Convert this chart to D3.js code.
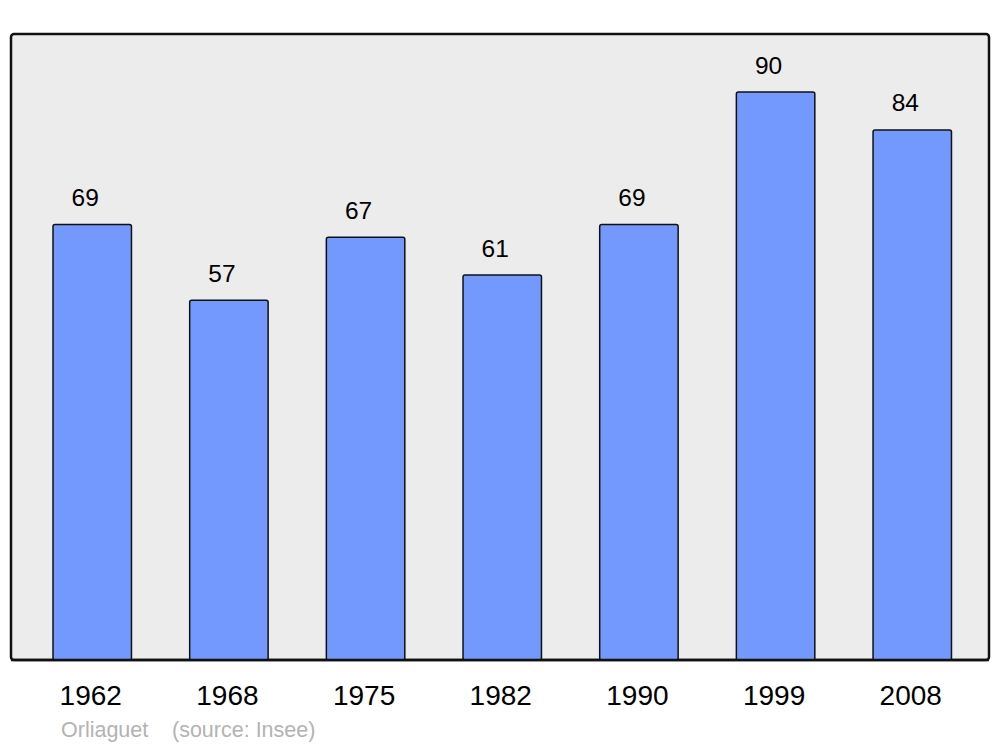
<!DOCTYPE html>
<html>
<head>
<meta charset="utf-8">
<script src="https://cdn.jsdelivr.net/npm/d3@7"></script>
<style>
  html, body { margin: 0; padding: 0; background: #ffffff; }
  svg { display: block; font-family: "Liberation Sans", Arial, sans-serif; }
</style>
</head>
<body>
<svg id="chart" width="1000" height="747"></svg>
<script>
const years = ["1962", "1968", "1975", "1982", "1990", "1999", "2008"];
const population = [69, 57, 67, 61, 69, 90, 84];
const footerName = "Orliaguet";
const footerSource = "(source: Insee)";

const svg = d3.select("#chart");
const panel = { left: 11, top: 34, right: 989, bottom: 660 };

svg.append("rect")
  .attr("x", panel.left).attr("y", panel.top)
  .attr("width", panel.right - panel.left)
  .attr("height", panel.bottom - panel.top)
  .attr("rx", 3).attr("ry", 3)
  .attr("fill", "#ececec")
  .attr("stroke", "#111")
  .attr("stroke-width", 2.5);

const x = d3.scaleBand()
  .domain(years)
  .range([23.9, 980.6])
  .paddingInner(0.426)
  .paddingOuter(0.213);

const y = d3.scaleLinear()
  .domain([0, 99.2])
  .range([panel.bottom, panel.top]);

const data = years.map((yr, i) => ({ year: yr, value: population[i] }));

svg.append("g").selectAll("rect")
  .data(data)
  .enter().append("rect")
  .attr("x", d => x(d.year))
  .attr("y", d => y(d.value))
  .attr("width", x.bandwidth())
  .attr("height", d => panel.bottom - y(d.value))
  .attr("rx", 2).attr("ry", 2)
  .attr("fill", "#7399ff")
  .attr("stroke", "#111")
  .attr("stroke-width", 1.5);

// redraw bottom border over bar bottoms
svg.append("line")
  .attr("x1", panel.left).attr("x2", panel.right)
  .attr("y1", panel.bottom).attr("y2", panel.bottom)
  .attr("stroke", "#111").attr("stroke-width", 2.5);

svg.append("g").selectAll("text")
  .data(data)
  .enter().append("text")
  .attr("x", d => x(d.year) + x.bandwidth() / 2 - 7)
  .attr("y", d => y(d.value) - 18.5)
  .attr("text-anchor", "middle")
  .attr("font-size", 24.5)
  .attr("fill", "#000")
  .text(d => d.value);

const xAxis = d3.axisBottom(x).tickSize(0).tickPadding(0);
const axisG = svg.append("g")
  .attr("transform", `translate(-1.5, 704.5)`)
  .call(xAxis);
axisG.select(".domain").remove();
axisG.selectAll("text")
  .attr("dy", 0)
  .attr("font-size", 28)
  .attr("font-family", "Liberation Sans, Arial, sans-serif")
  .attr("fill", "#000");

svg.append("text")
  .attr("x", 61).attr("y", 737)
  .attr("font-size", 21.5)
  .attr("fill", "#b3b3b3")
  .text(footerName);
svg.append("text")
  .attr("x", 172).attr("y", 737)
  .attr("font-size", 21.5)
  .attr("fill", "#b3b3b3")
  .text(footerSource);
</script>
</body>
</html>
